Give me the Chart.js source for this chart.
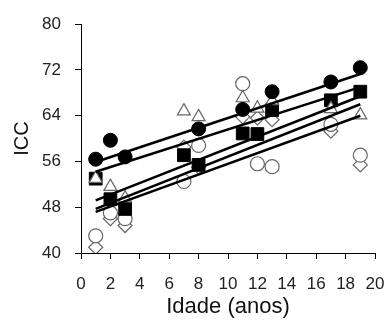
<!DOCTYPE html>
<html>
<head>
<meta charset="utf-8">
<script src="https://cdn.jsdelivr.net/npm/chart.js@4/dist/chart.umd.min.js"></script>
<style>
  html, body { margin: 0; padding: 0; background: #fff; }
  #wrap { width: 385px; height: 326px; }
</style>
</head>
<body>
<div id="wrap"><canvas id="chart" width="385" height="326"></canvas></div>
<script>
// idades (anos)
const ages = [1, 2, 3, 7, 8, 11, 12, 13, 17, 19];

// ICC por grupo (null = sem ponto)
const filledCircles = [56.4, 59.7, 56.8, null, 61.7, 65.1, null, 68.2, 69.9, 72.4];
const openTriangles = [53.0, 51.6, 49.6, 64.8, 63.8, 67.1, 65.3, 66.6, 65.2, 64.1];
const filledSquares = [53.0, 49.4, 47.7, 57.1, 55.4, 60.9, 60.8, 65.0, 66.7, 68.2];
const openCircles = [43.0, 47.0, 46.0, 52.5, 58.8, 69.6, 55.6, 55.1, 62.5, 57.1];
const openDiamonds = [41.0, 46.0, 44.8, 58.5, 55.0, 63.8, 63.6, 63.3, 61.3, 55.4];

// linhas de tendência (início em 1 ano, fim em 19 anos)
const trendX = [1, 19];
const trend1 = [55.9, 71.3];
const trend2 = [54.2, 69.0];
const trend3 = [49.2, 67.4];
const trend4 = [47.7, 66.0];
const trend5 = [47.2, 64.0];

const xTicks = [0, 2, 4, 6, 8, 10, 12, 14, 16, 18, 20];
const yTicks = [40, 48, 56, 64, 72, 80];

function pts(ys) {
  const out = [];
  ys.forEach((y, i) => {
    if (y !== null) out.push({ x: ages[i], y });
  });
  return out;
}

function line(ys) {
  return {
    data: trendX.map((x, i) => ({ x, y: ys[i] })),
    showLine: true,
    borderColor: "#000",
    borderWidth: 2.5,
    pointRadius: 0,
    fill: false,
    order: 0
  };
}

const gray = "#666";

new Chart(document.getElementById("chart"), {
  type: "scatter",
  data: {
    datasets: [
      line(trend1), line(trend2), line(trend3), line(trend4), line(trend5),
      { data: pts(filledCircles), pointStyle: "circle", pointRadius: 7, backgroundColor: "#000", borderColor: "#000", borderWidth: 1, order: 1 },
      { data: pts(openTriangles), pointStyle: "triangle", pointRadius: 7.5, backgroundColor: "#fff", borderColor: gray, borderWidth: 1.2, order: 2 },
      { data: pts(filledSquares), pointStyle: "rect", pointRadius: 9, backgroundColor: "#000", borderColor: "#000", borderWidth: 1, order: 3 },
      { data: pts(openCircles), pointStyle: "circle", pointRadius: 7, backgroundColor: "#fff", borderColor: gray, borderWidth: 1.2, order: 4 },
      { data: pts(openDiamonds), pointStyle: "rectRot", pointRadius: 7, backgroundColor: "#fff", borderColor: gray, borderWidth: 1.2, order: 5 }
    ]
  },
  options: {
    responsive: false,
    animation: false,
    layout: { padding: { top: 20, right: 0, left: 0, bottom: 0 } },
    plugins: { legend: { display: false }, tooltip: { enabled: false } },
    scales: {
      x: {
        type: "linear",
        min: 0,
        max: 20,
        afterFit: s => {
          s.height = 73;
          s.paddingLeft = 0;
          s.paddingRight = 10;
        },
        afterBuildTicks: s => { s.ticks = xTicks.map(v => ({ value: v })); },
        grid: { drawOnChartArea: false, drawTicks: true, tickLength: 6, color: "#000" },
        border: { color: "#000", width: 1 },
        ticks: { color: "#222", padding: 15, maxRotation: 0, font: { family: "Liberation Sans", size: 17 } },
        title: { display: true, text: "Idade (anos)", color: "#111", padding: { top: 0, bottom: 6 }, font: { family: "Liberation Sans", size: 22 } }
      },
      y: {
        type: "linear",
        min: 40,
        max: 80,
        afterFit: s => { s.width = 81; },
        afterBuildTicks: s => { s.ticks = yTicks.map(v => ({ value: v })); },
        grid: { drawOnChartArea: false, drawTicks: true, tickLength: 6, color: "#000" },
        border: { color: "#000", width: 1 },
        ticks: { color: "#222", padding: 14, font: { family: "Liberation Sans", size: 17 } },
        title: { display: true, text: "ICC", color: "#111", padding: { top: 10, bottom: 0 }, font: { family: "Liberation Sans", size: 20 } }
      }
    }
  }
});
</script>
</body>
</html>
